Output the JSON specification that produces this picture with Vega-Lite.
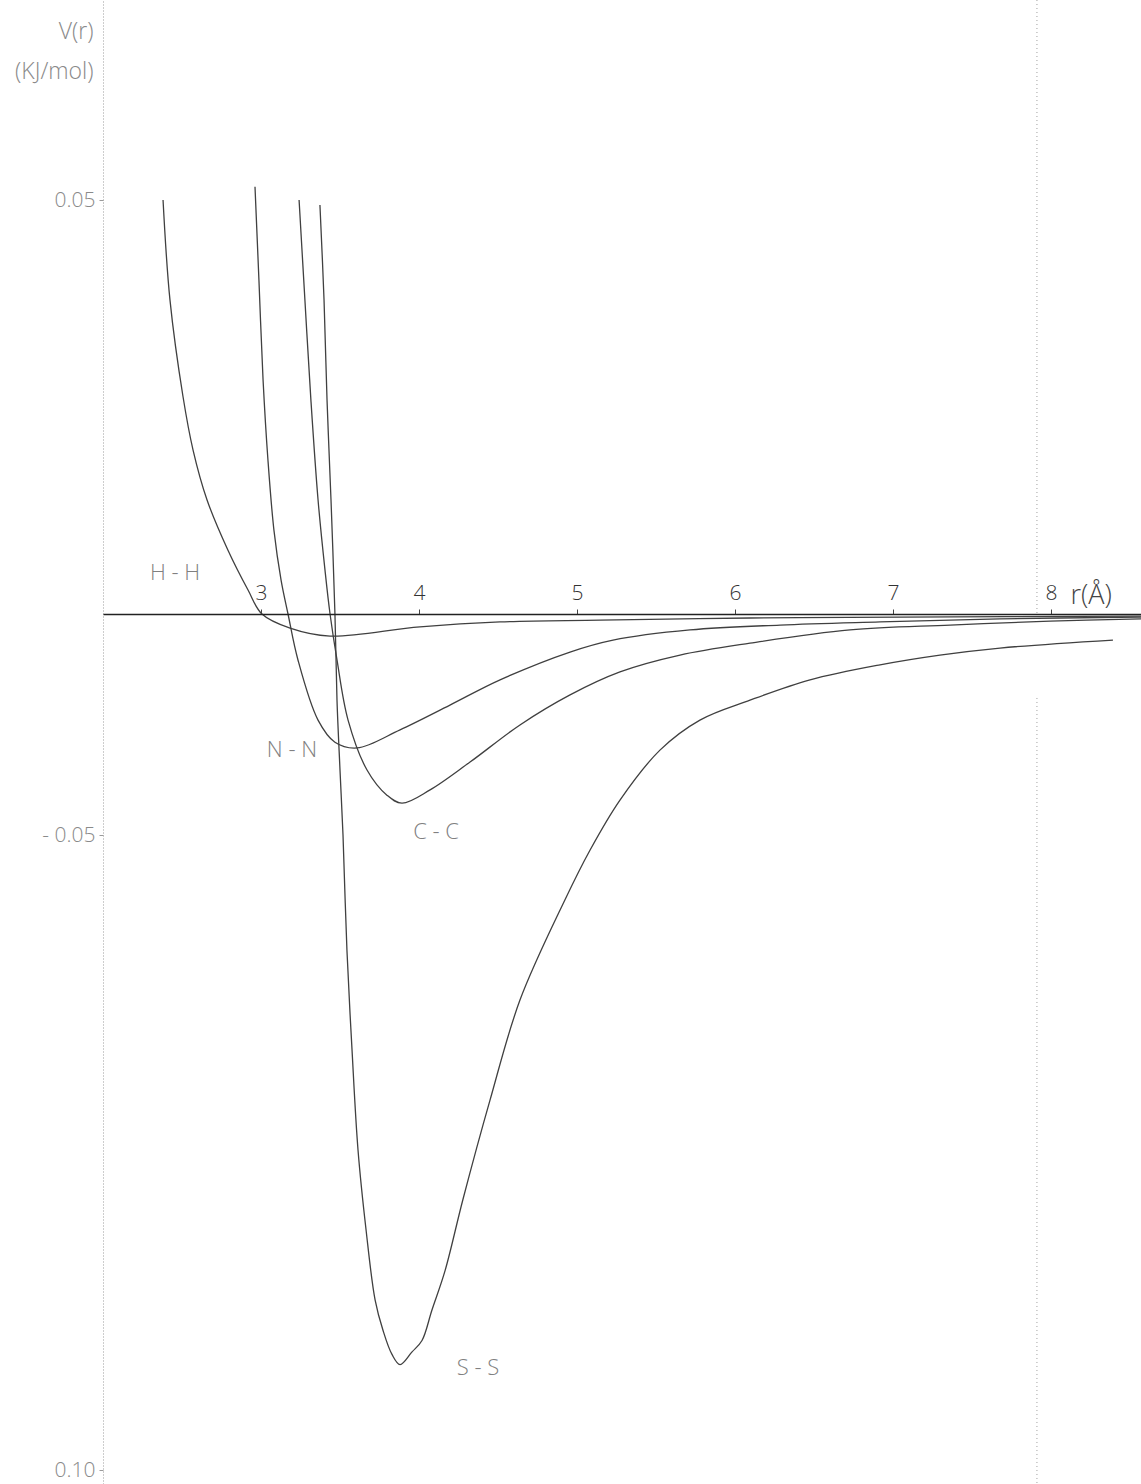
{
  "$schema": "https://vega.github.io/schema/vega-lite/v6.json",
  "width": 1038,
  "height": 1484,
  "autosize": "none",
  "padding": {"left": 103, "top": 0, "right": 0, "bottom": 0},
  "background": "white",
  "config": {
    "view": {"stroke": null},
    "font": "Open Sans"
  },
  "datasets": {
    "curves": [
      {"pair": "H-H", "r": 2.380, "v": 0.0500},
      {"pair": "H-H", "r": 2.424, "v": 0.0379},
      {"pair": "H-H", "r": 2.506, "v": 0.0263},
      {"pair": "H-H", "r": 2.570, "v": 0.0198},
      {"pair": "H-H", "r": 2.658, "v": 0.0138},
      {"pair": "H-H", "r": 2.791, "v": 0.0077},
      {"pair": "H-H", "r": 2.918, "v": 0.0029},
      {"pair": "H-H", "r": 3.006, "v": 0.0000},
      {"pair": "H-H", "r": 3.184, "v": -0.0032},
      {"pair": "H-H", "r": 3.437, "v": -0.0050},
      {"pair": "H-H", "r": 4.006, "v": -0.0029},
      {"pair": "H-H", "r": 4.513, "v": -0.0018},
      {"pair": "H-H", "r": 5.146, "v": -0.0014},
      {"pair": "H-H", "r": 6.095, "v": -0.0009},
      {"pair": "H-H", "r": 7.044, "v": -0.0007},
      {"pair": "H-H", "r": 8.570, "v": -0.0005},

      {"pair": "N-N", "r": 2.962, "v": 0.0516},
      {"pair": "N-N", "r": 2.987, "v": 0.0403},
      {"pair": "N-N", "r": 3.013, "v": 0.0283},
      {"pair": "N-N", "r": 3.044, "v": 0.0186},
      {"pair": "N-N", "r": 3.082, "v": 0.0101},
      {"pair": "N-N", "r": 3.127, "v": 0.0041},
      {"pair": "N-N", "r": 3.171, "v": 0.0000},
      {"pair": "N-N", "r": 3.234, "v": -0.0104},
      {"pair": "N-N", "r": 3.361, "v": -0.0240},
      {"pair": "N-N", "r": 3.468, "v": -0.0290},
      {"pair": "N-N", "r": 3.608, "v": -0.0303},
      {"pair": "N-N", "r": 3.880, "v": -0.0262},
      {"pair": "N-N", "r": 4.196, "v": -0.0206},
      {"pair": "N-N", "r": 4.513, "v": -0.0149},
      {"pair": "N-N", "r": 4.956, "v": -0.0086},
      {"pair": "N-N", "r": 5.228, "v": -0.0059},
      {"pair": "N-N", "r": 5.715, "v": -0.0036},
      {"pair": "N-N", "r": 6.285, "v": -0.0025},
      {"pair": "N-N", "r": 6.918, "v": -0.0018},
      {"pair": "N-N", "r": 7.677, "v": -0.0011},
      {"pair": "N-N", "r": 8.570, "v": -0.0007},

      {"pair": "C-C", "r": 3.241, "v": 0.0500},
      {"pair": "C-C", "r": 3.278, "v": 0.0379},
      {"pair": "C-C", "r": 3.316, "v": 0.0258},
      {"pair": "C-C", "r": 3.361, "v": 0.0138},
      {"pair": "C-C", "r": 3.405, "v": 0.0053},
      {"pair": "C-C", "r": 3.437, "v": 0.0000},
      {"pair": "C-C", "r": 3.481, "v": -0.0104},
      {"pair": "C-C", "r": 3.551, "v": -0.0240},
      {"pair": "C-C", "r": 3.671, "v": -0.0353},
      {"pair": "C-C", "r": 3.797, "v": -0.0410},
      {"pair": "C-C", "r": 3.892, "v": -0.0428},
      {"pair": "C-C", "r": 4.070, "v": -0.0398},
      {"pair": "C-C", "r": 4.323, "v": -0.0335},
      {"pair": "C-C", "r": 4.639, "v": -0.0251},
      {"pair": "C-C", "r": 4.956, "v": -0.0183},
      {"pair": "C-C", "r": 5.272, "v": -0.0131},
      {"pair": "C-C", "r": 5.652, "v": -0.0093},
      {"pair": "C-C", "r": 6.095, "v": -0.0066},
      {"pair": "C-C", "r": 6.728, "v": -0.0036},
      {"pair": "C-C", "r": 7.361, "v": -0.0025},
      {"pair": "C-C", "r": 7.994, "v": -0.0016},
      {"pair": "C-C", "r": 8.570, "v": -0.0011},

      {"pair": "S-S", "r": 3.373, "v": 0.0494},
      {"pair": "S-S", "r": 3.399, "v": 0.0379},
      {"pair": "S-S", "r": 3.418, "v": 0.0258},
      {"pair": "S-S", "r": 3.443, "v": 0.0138},
      {"pair": "S-S", "r": 3.468, "v": 0.0000},
      {"pair": "S-S", "r": 3.481, "v": -0.0195},
      {"pair": "S-S", "r": 3.500, "v": -0.0353},
      {"pair": "S-S", "r": 3.519, "v": -0.0500},
      {"pair": "S-S", "r": 3.544, "v": -0.0591},
      {"pair": "S-S", "r": 3.576, "v": -0.0669},
      {"pair": "S-S", "r": 3.614, "v": -0.0748},
      {"pair": "S-S", "r": 3.665, "v": -0.0811},
      {"pair": "S-S", "r": 3.722, "v": -0.0866},
      {"pair": "S-S", "r": 3.772, "v": -0.0890},
      {"pair": "S-S", "r": 3.829, "v": -0.0909},
      {"pair": "S-S", "r": 3.880, "v": -0.0917},
      {"pair": "S-S", "r": 3.956, "v": -0.0907},
      {"pair": "S-S", "r": 4.019, "v": -0.0898},
      {"pair": "S-S", "r": 4.082, "v": -0.0874},
      {"pair": "S-S", "r": 4.165, "v": -0.0843},
      {"pair": "S-S", "r": 4.278, "v": -0.0787},
      {"pair": "S-S", "r": 4.449, "v": -0.0709},
      {"pair": "S-S", "r": 4.639, "v": -0.0630},
      {"pair": "S-S", "r": 4.924, "v": -0.0551},
      {"pair": "S-S", "r": 5.082, "v": -0.0512},
      {"pair": "S-S", "r": 5.272, "v": -0.0421},
      {"pair": "S-S", "r": 5.525, "v": -0.0308},
      {"pair": "S-S", "r": 5.778, "v": -0.0240},
      {"pair": "S-S", "r": 6.095, "v": -0.0195},
      {"pair": "S-S", "r": 6.475, "v": -0.0149},
      {"pair": "S-S", "r": 6.918, "v": -0.0115},
      {"pair": "S-S", "r": 7.297, "v": -0.0093},
      {"pair": "S-S", "r": 7.677, "v": -0.0077},
      {"pair": "S-S", "r": 8.392, "v": -0.0059}
    ],
    "labels": [
      {"text": "H - H", "r": 2.456, "v": 0.0050},
      {"text": "N - N", "r": 3.196, "v": -0.0308},
      {"text": "C - C", "r": 4.108, "v": -0.0493},
      {"text": "S - S", "r": 4.373, "v": -0.0920}
    ],
    "guide": [
      {"r": 7.911, "v": 0.0742, "v2": 0.0},
      {"r": 7.911, "v": -0.0190, "v2": -0.1011}
    ]
  },
  "encoding": {
    "x": {
      "field": "r",
      "type": "quantitative",
      "scale": {"domain": [2, 8.5696], "nice": false, "zero": false},
      "axis": {
        "orient": "top",
        "offset": -614,
        "values": [3, 4, 5, 6, 7, 8],
        "format": "d",
        "grid": false,
        "zindex": 1,
        "domainColor": "#222222",
        "domainWidth": 1.4,
        "tickColor": "#444444",
        "tickSize": 5,
        "tickWidth": 1,
        "labelFont": "Open Sans",
        "labelFontWeight": 300,
        "labelFontSize": 21,
        "labelColor": "#333333",
        "labelPadding": 6,
        "labelBaseline": "bottom",
        "title": "r(Å)",
        "titleFont": "Open Sans",
        "titleFontWeight": 300,
        "titleFontSize": 27,
        "titleColor": "#444444",
        "titleAlign": "left",
        "titleBaseline": "alphabetic",
        "titleAnchor": null,
        "titleX": 967,
        "titleY": -11,
        "titleAngle": 0
      }
    },
    "y": {
      "field": "v",
      "type": "quantitative",
      "scale": {
        "domain": [-0.1011, -0.1, -0.05, 0, 0.05, 0.0742],
        "range": [1484, 1470, 835, 614, 200, 0],
        "nice": false,
        "zero": false
      },
      "axis": {
        "values": [0.05, -0.05, -0.1],
        "labelExpr": "datum.value > 0 ? '0.05' : (datum.value > -0.07 ? '- 0.05' : '0.10')",
        "grid": false,
        "domainColor": "#9a9a9a",
        "domainDash": [1, 2],
        "domainWidth": 1,
        "tickColor": "#9a9a9a",
        "tickSize": 4,
        "labelFont": "Open Sans",
        "labelFontWeight": 300,
        "labelFontSize": 21,
        "labelColor": "#8a8a8a",
        "labelPadding": 4,
        "title": ["V(r)", "(KJ/mol)"],
        "titleFont": "Open Sans",
        "titleFontWeight": 300,
        "titleFontSize": 23,
        "titleColor": "#8a8a8a",
        "titleAngle": 0,
        "titleAlign": "right",
        "titleBaseline": "top",
        "titleAnchor": null,
        "titleX": -10,
        "titleY": 20,
        "titleLineHeight": 40
      }
    }
  },
  "layer": [
    {
      "data": {"name": "guide"},
      "mark": {"type": "rule", "color": "#a0a0a0", "strokeWidth": 1, "strokeDash": [1, 3]},
      "encoding": {"y2": {"field": "v2"}}
    },
    {
      "data": {"name": "curves"},
      "mark": {"type": "line", "color": "#404040", "strokeWidth": 1.3, "interpolate": "catmull-rom"},
      "encoding": {"detail": {"field": "pair", "type": "nominal"}}
    },
    {
      "data": {"name": "labels"},
      "mark": {
        "type": "text",
        "font": "Open Sans",
        "fontWeight": 300,
        "fontSize": 22,
        "color": "#808080",
        "align": "center",
        "baseline": "middle"
      },
      "encoding": {"text": {"field": "text", "type": "nominal"}}
    }
  ]
}
